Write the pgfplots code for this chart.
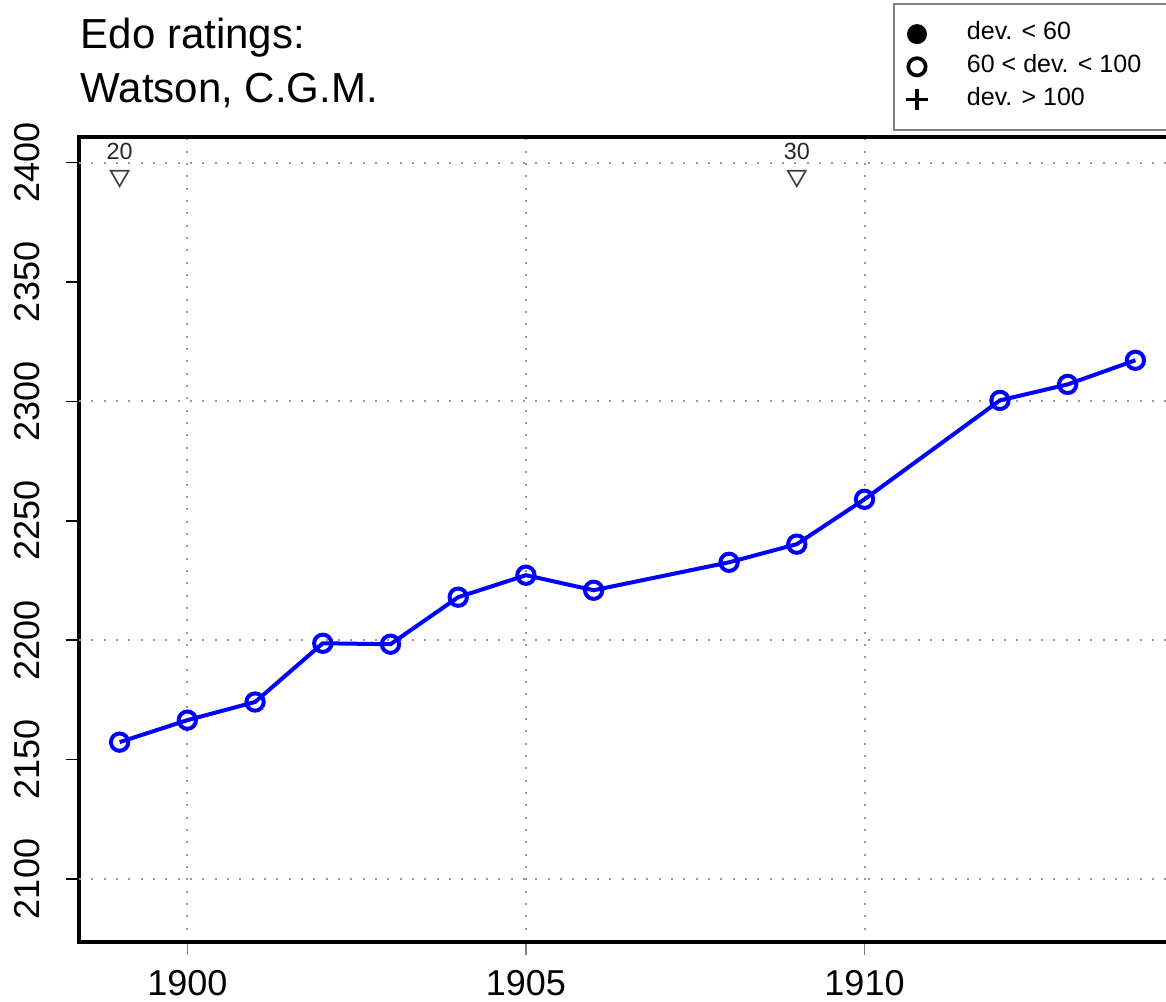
\documentclass[border=0pt]{standalone}
\usepackage{fontspec}
\setmainfont{Liberation Sans}
\usepackage{pgfplots}
\pgfplotsset{compat=1.18}
\begin{document}
\begin{tikzpicture}
\path[use as bounding box, clip] (-23.7pt,-17.7pt) rectangle (326.1pt,282.6pt);
\begin{axis}[
  at={(0pt,0pt)}, anchor=south west,
  scale only axis, width=329.1pt, height=241.5pt,
  xmin=1898.4, xmax=1914.6, ymin=2073.6, ymax=2410.7,
  xtick={1900,1905,1910},
  ytick={2100,2150,2200,2250,2300,2350,2400},
  extra y ticks={2100,2200,2300,2400},
  extra y tick labels={},
  extra y tick style={grid=major, major tick length=0pt},
  xmajorgrids=true,
  grid style={gray!80, line width=0.6pt, dash pattern=on 0.6pt off 3.1pt},
  axis line style={line width=1.2pt},
  xtick pos=bottom, ytick pos=left,
  tick align=outside, major tick length=4pt,
  x tick style={gray, line width=0.5pt},
  y tick style={black, line width=0.5pt},
  /pgf/number format/.cd, 1000 sep={}, assume math mode=true, /pgfplots/.cd,
  tick label style={font=\fontsize{10.8}{13}\selectfont},
  xticklabel style={anchor=north, inner sep=0pt},
  xticklabel shift=4.2pt,
  yticklabel style={rotate=90, anchor=south, inner sep=0pt},
  yticklabel shift=7.5pt,
  legend image code/.code={\draw[#1] plot coordinates {(0pt,0pt)};},
  legend style={at={(0.742,1.1665)}, anchor=north west, draw=gray, line width=0.6pt,
    fill=white, font=\fontsize{7.5}{9}\selectfont, inner xsep=3.7pt, inner ysep=5.8pt,
    row sep=3.3pt, column sep=11.8pt,
    nodes={inner sep=0pt, text height=5pt, text depth=1.5pt}},
  legend cell align=left,
]
\addplot[forget plot, blue, line width=1.2pt, mark=o, mark size=2.6pt] coordinates {
  (1899,2157.3) (1900,2166.5) (1901,2174.1) (1902,2198.7) (1903,2198.3)
  (1904,2218.0) (1905,2227.2) (1906,2220.9) (1908,2232.6) (1909,2240.2)
  (1910,2259.0) (1912,2300.4) (1913,2307.1) (1914,2317.2)
};
\addplot[forget plot, only marks, mark=triangle, mark size=3.1pt,
  mark options={rotate=180, draw=black!75, line width=0.5pt, fill=white},
  point meta=explicit symbolic, nodes near coords,
  nodes near coords align={anchor=base},
  every node near coord/.append style={font=\fontsize{7}{8}\selectfont, inner sep=0pt, yshift=4.8pt, text=black!85}]
  coordinates {(1899,2394.4) [20] (1909,2394.4) [30]};
\addlegendimage{only marks, mark=*, mark size=2.8pt, black, line width=0.4pt}
\addlegendentry{dev. < 60}
\addlegendimage{only marks, mark=o, mark size=2.6pt, line width=1.1pt, black}
\addlegendentry{60 < dev. < 100\hspace*{40pt}}
\addlegendimage{only marks, mark=+, mark size=3.2pt, line width=1.1pt, black}
\addlegendentry{dev. > 100}
\end{axis}
\node[anchor=base west, inner sep=0pt, font=\fontsize{12.6}{14}\selectfont] at (0.3pt,267.9pt) {Edo ratings:};
\node[anchor=base west, inner sep=0pt, font=\fontsize{12.6}{14}\selectfont] at (0.3pt,251.8pt) {Watson, C.G.M.};
\end{tikzpicture}
\end{document}
